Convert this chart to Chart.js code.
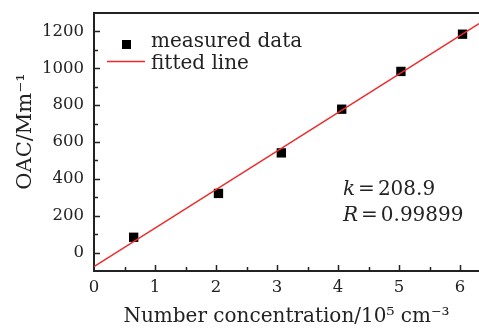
<!DOCTYPE html>
<html>
<head>
<meta charset="utf-8">
<script src="https://cdn.jsdelivr.net/npm/chart.js@4.4.1/dist/chart.umd.min.js"></script>
<style>
  html, body { margin: 0; padding: 0; background: #fff; }
  canvas { display: block; }
</style>
</head>
<body>
<canvas id="oac" width="479" height="329"></canvas>
<script>
// Number concentration (10^5 cm^-3) vs optical absorption coefficient (Mm^-1)
const concentration = [0.65, 2.04, 3.07, 4.06, 5.03, 6.04];
const oac = [83, 321, 541, 778, 983, 1185];

// Least-squares fit, slope as printed on the plot
const slopeK = 208.9;
const intercept = -76;
const corrR = "0.99899";
const fitX = [0, 6.31];

const xTicks = [0, 1, 2, 3, 4, 5, 6];
const xMinor = [0.5, 1.5, 2.5, 3.5, 4.5, 5.5];
const yTicks = [0, 200, 400, 600, 800, 1000, 1200];
const yMinor = [100, 300, 500, 700, 900, 1100];

const SERIF = "'DejaVu Serif', 'Liberation Serif', serif";
const INK = "#222";
const RED = "#ee2a2a";

// ── Cadre : bord supérieur, graduations intérieures, légende, annotation ──
const framePlugin = {
  id: "frame",
  afterDraw(chart) {
    const { ctx, chartArea: a, scales: { x, y } } = chart;
    ctx.save();
    ctx.strokeStyle = INK;
    ctx.lineWidth = 2;
    ctx.beginPath();
    ctx.moveTo(a.left - 1, a.top);
    ctx.lineTo(a.right, a.top);
    ctx.stroke();

    ctx.lineWidth = 1.5;
    ctx.beginPath();
    const tick = (vals, len, horiz) => vals.forEach((v) => {
      if (horiz) {
        const px = Math.round(x.getPixelForValue(v)) + 0.5;
        ctx.moveTo(px, a.bottom); ctx.lineTo(px, a.bottom - len);
      } else {
        const py = Math.round(y.getPixelForValue(v)) + 0.5;
        ctx.moveTo(a.left, py); ctx.lineTo(a.left + len, py);
      }
    });
    tick(xTicks.slice(1), 6, true);
    tick(xMinor, 4, true);
    tick(yTicks, 6, false);
    tick(yMinor, 4, false);
    ctx.stroke();

    // légende
    const pts = chart.data.datasets[0];
    const fit = chart.data.datasets[1];
    ctx.fillStyle = pts.backgroundColor;
    ctx.fillRect(122, 40, 9, 9);
    ctx.strokeStyle = fit.borderColor;
    ctx.lineWidth = fit.borderWidth;
    ctx.beginPath();
    ctx.moveTo(107, 61.5); ctx.lineTo(145, 61.5);
    ctx.stroke();
    ctx.fillStyle = INK;
    ctx.font = `20px ${SERIF}`;
    ctx.textBaseline = "alphabetic";
    ctx.fillText(pts.label, 151, 47);
    ctx.fillText(fit.label, 151, 69);

    // k et R
    const line = (sym, val, yb) => {
      ctx.font = `italic 20px ${SERIF}`;
      ctx.fillText(sym, 343, yb);
      let xp = 343 + ctx.measureText(sym).width + 3;
      ctx.font = `20px ${SERIF}`;
      ctx.fillText("=", xp, yb);
      xp += ctx.measureText("=").width + 3;
      ctx.fillText(val, xp, yb);
    };
    line("k", slopeK.toFixed(1), 195);
    line("R", corrR, 221);
    ctx.restore();
  },
};

new Chart(document.getElementById("oac"), {
  data: {
    datasets: [
      {
        type: "scatter",
        label: "measured data",
        data: concentration.map((c, i) => ({ x: c, y: oac[i] })),
        pointStyle: "rect",
        pointRadius: 6.6,
        pointHoverRadius: 6.6,
        backgroundColor: "#000",
        borderColor: "#000",
        borderWidth: 0,
        order: 2,
      },
      {
        type: "line",
        label: "fitted line",
        data: fitX.map((c) => ({ x: c, y: slopeK * c + intercept })),
        borderColor: RED,
        borderWidth: 1.4,
        pointRadius: 0,
        fill: false,
        order: 1,
      },
    ],
  },
  options: {
    responsive: false,
    animation: false,
    devicePixelRatio: 1,
    layout: { autoPadding: false, padding: { top: 13, right: 0, left: 0, bottom: 0 } },
    plugins: { legend: { display: false }, tooltip: { enabled: false } },
    scales: {
      x: {
        type: "linear",
        min: 0,
        max: 6.31,
        afterFit: (s) => { s.height = 58; s.paddingLeft = 0; s.paddingRight = 0; },
        afterBuildTicks: (s) => { s.ticks = xTicks.map((v) => ({ value: v })); },
        grid: { display: false, drawTicks: false },
        border: { display: true, color: INK, width: 2 },
        ticks: { color: INK, padding: 7, font: { family: SERIF, size: 16.5 }, callback: (v) => String(v) },
        title: {
          display: true,
          text: "Number concentration/10\u2075 cm\u207B\u00B3",
          color: INK,
          padding: { top: 0, bottom: 0 },
          font: { family: SERIF, size: 20 },
        },
      },
      y: {
        type: "linear",
        min: -100,
        max: 1300,
        afterFit: (s) => { s.width = 94; s.paddingTop = 0; s.paddingBottom = 0; },
        afterBuildTicks: (s) => { s.ticks = yTicks.map((v) => ({ value: v })); },
        grid: { display: false, drawTicks: false },
        border: { display: true, color: INK, width: 2 },
        ticks: { color: INK, padding: 10, font: { family: SERIF, size: 16.5 }, callback: (v) => String(v) },
        title: {
          display: true,
          text: "\u2003OAC/Mm\u207B\u00B9",
          color: INK,
          padding: { top: 13, bottom: 0 },
          font: { family: SERIF, size: 21 },
        },
      },
    },
  },
  plugins: [framePlugin],
});
</script>
</body>
</html>
